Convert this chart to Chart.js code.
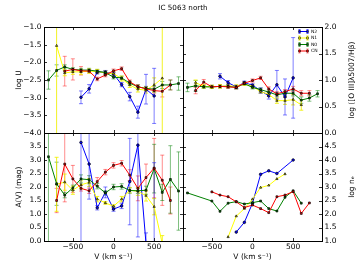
<!DOCTYPE html>
<html>
<head>
<meta charset="utf-8">
<title>IC 5063 north</title>
<script src="https://cdn.jsdelivr.net/npm/chart.js@4.4.1/dist/chart.umd.min.js"></script>
<style>
  html, body { margin: 0; padding: 0; background: #fff; }
  #fig { position: relative; width: 357px; height: 268px; }
  #fig canvas { position: absolute; left: 0; top: 0; }
</style>
</head>
<body>
<div id="fig">
  <canvas id="panelTL" width="357" height="268"></canvas>
  <canvas id="panelTR" width="357" height="268"></canvas>
  <canvas id="panelBL" width="357" height="268"></canvas>
  <canvas id="panelBR" width="357" height="268"></canvas>
</div>
<script>
// velocity bins (km/s), shared by every panel
const velocity = [-800, -700, -600, -500, -400, -300, -200, -100, 0, 100, 200, 300, 400, 500, 600, 700, 800];
const xTicks = [-500, 0, 500];
const seriesNames = ['N2', 'N1', 'N0', 'CN'];

// top left: log U
const logU_N2 = [null, null, null, null, -2.99, -2.75, -2.28, -2.28, -2.33, -2.63, -2.97, -3.41, -2.76, -2.95, null, null, null];
const logU_N2_err = [null, null, null, null, 0.18, 0.12, 0.05, 0.05, 0.05, 0.06, 0.12, 0.17, 0.42, 0.78, null, null, null];
const logU_N1 = [null, -1.53, -2.3, -2.27, -2.27, -2.25, -2.26, -2.3, -2.32, -2.46, -2.64, -2.76, -2.79, -2.64, -2.45, null, null];
const logU_N1_err = [null, 3.0, 0.08, 0.07, 0.07, 0.06, 0.06, 0.06, 0.06, 0.07, 0.07, 0.08, 0.08, 0.2, 3.0, null, null];
const logU_N0 = [-2.5, -2.23, -2.13, -2.2, -2.22, -2.22, -2.25, -2.29, -2.42, -2.44, -2.59, -2.69, -2.74, -2.76, -2.64, -2.64, -2.6];
const logU_N0_err = [0.26, 0.16, 0.06, 0.05, 0.05, 0.05, 0.05, 0.05, 0.05, 0.05, 0.05, 0.05, 0.06, 0.08, 0.1, 0.14, 0.19];
const logU_CN = [null, null, -2.25, -2.2, -2.24, -2.25, -2.47, -2.36, -2.24, -2.18, -2.55, -2.69, -2.75, -2.8, -2.82, -2.64, null];
const logU_CN_err = [null, null, 0.42, 0.3, 0.12, 0.05, 0.05, 0.05, 0.05, 0.05, 0.05, 0.06, 0.06, 0.07, 0.16, 0.14, null];

// top right: log([O III]5007/Hb)
const oiii_N2 = [null, null, null, null, 1.07, 0.95, 0.87, 0.95, 0.9, 0.8, 0.7, 0.91, 0.68, 1.04, null, null, null];
const oiii_N2_err = [null, null, null, null, 0.05, 0.04, 0.03, 0.03, 0.03, 0.05, 0.06, 0.27, 0.34, 0.76, null, null, null];
const oiii_N1 = [null, 0.95, 0.88, 0.87, 0.88, 0.89, 0.88, 0.93, 0.88, 0.78, 0.73, 0.61, 0.61, 0.63, 0.53, null, null];
const oiii_N1_err = [null, 0.05, 0.03, 0.03, 0.03, 0.03, 0.03, 0.03, 0.03, 0.03, 0.04, 0.05, 0.07, 0.1, 0.1, null, null];
const oiii_N0 = [0.86, 0.89, 0.87, 0.87, 0.88, 0.88, 0.86, 0.93, 0.86, 0.82, 0.77, 0.72, 0.75, 0.75, 0.62, 0.66, 0.74];
const oiii_N0_err = [0.08, 0.1, 0.03, 0.03, 0.03, 0.03, 0.03, 0.03, 0.03, 0.03, 0.04, 0.04, 0.04, 0.05, 0.06, 0.06, 0.06];
const oiii_CN = [null, 0.8, 0.96, 0.87, 0.88, 0.87, 0.86, 0.94, 0.99, 1.04, 0.83, 0.74, 0.78, 0.83, 0.75, 0.75, null];
const oiii_CN_err = [null, 0.06, 0.05, 0.03, 0.03, 0.03, 0.03, 0.03, 0.03, 0.03, 0.04, 0.04, 0.04, 0.05, 0.05, 0.05, null];

// bottom left: A(V)
const av_N2 = [null, null, null, null, 3.65, 2.85, 1.23, 1.8, 1.18, 1.3, 2.2, 3.55, -0.1, -0.5, null, null, null];
const av_N2_err = [null, null, null, null, 3.7, 1.3, 0.08, 0.2, 0.08, 0.1, 1.6, 3.4, 0.4, 3.4, null, null, null];
const av_N1 = [null, 2.1, 2.18, 1.88, 2.08, 2.17, 1.55, 1.41, 1.29, 1.55, 1.88, 1.84, 1.68, 1.27, -0.1, null, null];
const av_N1_err = [null, 1.0, 0.3, 0.15, 0.15, 0.15, 0.1, 0.05, 0.05, 0.1, 0.1, 0.15, 0.2, 0.3, 0.3, null, null];
const av_N0 = [3.12, 2.12, 1.7, 1.97, 2.3, 2.27, 2.03, 1.78, 2.0, 2.02, 1.87, 1.86, 1.88, 2.68, 1.8, 2.28, 1.85];
const av_N0_err = [3.3, 0.8, 0.1, 0.1, 0.15, 0.15, 0.1, 0.08, 0.1, 0.1, 0.1, 0.1, 0.15, 0.9, 0.3, 1.25, 1.45];
const av_CN = [null, 1.5, 2.85, 2.3, 1.95, 1.86, 2.2, 2.55, 2.8, 2.88, 2.44, 1.95, 2.35, 2.7, 2.25, 1.5, null];
const av_CN_err = [null, 0.45, 1.4, 0.5, 0.1, 0.1, 0.15, 0.1, 0.1, 0.1, 0.2, 0.46, 0.5, 1.1, 0.93, 0.5, null];

// bottom right: log n_e (no error bars)
const ne_N2 = [null, null, null, null, null, null, 1.33, 1.69, 2.4, 3.47, 3.6, 3.5, null, 4.0, null, null, null];
const ne_N1 = [null, null, null, null, null, 1.15, 1.92, 2.2, 2.55, 2.98, 3.06, 3.3, 3.48, null, null, null, null];
const ne_N0 = [2.78, null, null, 2.48, 2.1, 2.4, 2.46, 2.37, 2.42, 2.48, 2.2, 2.11, 2.62, 2.86, 2.4, null, null];
const ne_CN = [null, null, null, 2.82, 2.7, 2.64, 2.45, 2.24, 2.33, 2.2, 2.05, 2.64, 2.7, 2.83, 2.02, 2.41, null];

// styles
const lineColors = { N2: '#0000ff', N1: '#ffff00', N0: '#008000', CN: '#ff0000' };
const errColors = { N2: 'rgba(0,0,255,0.5)', N1: 'rgba(240,240,0,0.85)', N0: 'rgba(0,128,0,0.5)', CN: 'rgba(255,0,0,0.45)' };
const markers = { N2: 'circle', N1: 'triangle', N0: 'rect', CN: 'rect' };

const W = 357, H = 268;
const LEFT = 44, MID_X = 183, RIGHT = 322, TOP = 27, MID_Y = 133, BOTTOM = 241;
const FAMILY = '"DejaVu Sans", sans-serif';
const tickFont = { family: FAMILY, size: 7.5 };

function fmt(v) { return v.toFixed(1).replace('-', '\u2212'); }
function fmtX(v) { return String(v).replace('-', '\u2212'); }

function buildSets(series) {
  // series: [name, values, errors]; last one ends up drawn on top
  return series.map(([name, vals, errs]) => ({
    label: name,
    data: velocity
      .map((v, i) => ({ x: v, y: vals[i], e: errs ? errs[i] : null }))
      .filter(p => p.y !== null),
    borderColor: lineColors[name],
    borderWidth: 1,
    pointStyle: markers[name],
    pointRadius: 1.3,
    pointBackgroundColor: lineColors[name],
    pointBorderColor: '#000',
    pointBorderWidth: 0.7,
    errColor: errColors[name],
    tension: 0,
    fill: false
  })).reverse();
}

const panelDeco = {
  id: 'panelDeco',
  beforeDatasetsDraw(chart) {
    const { ctx, chartArea: a, scales: { x, y } } = chart;
    ctx.save();
    ctx.beginPath();
    ctx.rect(a.left, a.top, a.right - a.left, a.bottom - a.top);
    ctx.clip();
    ctx.lineWidth = 1;
    chart.data.datasets.forEach(ds => {
      ctx.strokeStyle = ds.errColor;
      ds.data.forEach(p => {
        if (p.e == null) return;
        const px = x.getPixelForValue(p.x);
        const y1 = y.getPixelForValue(p.y - p.e);
        const y2 = y.getPixelForValue(p.y + p.e);
        ctx.beginPath();
        ctx.moveTo(px, y1); ctx.lineTo(px, y2);
        ctx.moveTo(px - 2, y1); ctx.lineTo(px + 2, y1);
        ctx.moveTo(px - 2, y2); ctx.lineTo(px + 2, y2);
        ctx.stroke();
      });
    });
    ctx.restore();
  },
  afterDraw(chart, args, opts) {
    const { ctx, chartArea: a, scales: { x, y } } = chart;
    ctx.save();
    // frame
    ctx.strokeStyle = '#000';
    ctx.lineWidth = 1;
    ctx.strokeRect(a.left + 0.5, a.top + 0.5, a.right - a.left, a.bottom - a.top);
    // inward ticks on all four sides
    ctx.lineWidth = 0.8;
    ctx.beginPath();
    xTicks.forEach(v => {
      const px = Math.round(x.getPixelForValue(v)) + 0.5;
      ctx.moveTo(px, a.bottom); ctx.lineTo(px, a.bottom - 3);
      ctx.moveTo(px, a.top); ctx.lineTo(px, a.top + 3);
    });
    y.ticks.forEach(t => {
      const py = Math.round(y.getPixelForValue(t.value)) + 0.5;
      ctx.moveTo(a.left, py); ctx.lineTo(a.left + 3, py);
      ctx.moveTo(a.right, py); ctx.lineTo(a.right - 3, py);
    });
    ctx.stroke();

    ctx.fillStyle = '#000';
    if (opts.rightTitle) {
      ctx.save();
      ctx.translate(352.5, (a.top + a.bottom) / 2);
      ctx.rotate(-Math.PI / 2);
      ctx.font = '7.5px ' + FAMILY;
      ctx.textAlign = 'center';
      ctx.textBaseline = 'middle';
      ctx.fillText(opts.rightTitle, 0, 0);
      ctx.restore();
    }
    if (opts.figTitle) {
      ctx.font = '7.2px ' + FAMILY;
      ctx.textAlign = 'center';
      ctx.textBaseline = 'middle';
      ctx.fillText(opts.figTitle, (LEFT + RIGHT) / 2, 8.5);
    }
    if (opts.legend) {
      seriesNames.forEach((name, i) => {
        const ly = 31.5 + i * 6.5;
        const x1 = 299.5, x2 = 307.5;
        ctx.strokeStyle = errColors[name];
        ctx.lineWidth = 1;
        ctx.beginPath();
        [x1, x2].forEach(ex => {
          ctx.moveTo(ex, ly - 2); ctx.lineTo(ex, ly + 2);
          ctx.moveTo(ex - 1.2, ly - 2); ctx.lineTo(ex + 1.2, ly - 2);
          ctx.moveTo(ex - 1.2, ly + 2); ctx.lineTo(ex + 1.2, ly + 2);
        });
        ctx.stroke();
        ctx.strokeStyle = lineColors[name];
        ctx.beginPath();
        ctx.moveTo(x1, ly); ctx.lineTo(x2, ly);
        ctx.stroke();
        ctx.fillStyle = lineColors[name];
        ctx.strokeStyle = '#000';
        ctx.lineWidth = 0.5;
        [x1, x2].forEach(ex => {
          ctx.beginPath();
          ctx.rect(ex - 1, ly - 1, 2, 2);
          ctx.fill();
          ctx.stroke();
        });
        ctx.fillStyle = '#000';
        ctx.font = '4.5px ' + FAMILY;
        ctx.textAlign = 'left';
        ctx.textBaseline = 'middle';
        ctx.fillText(name, 311, ly);
      });
    }
    ctx.restore();
  }
};

function makePanel(canvasId, o) {
  const onLeft = o.side === 'left';
  return new Chart(document.getElementById(canvasId), {
    type: 'line',
    data: { datasets: buildSets(o.series) },
    options: {
      responsive: false,
      animation: false,
      events: [],
      layout: {
        padding: {
          left: onLeft ? 0 : MID_X,
          right: onLeft ? W - MID_X : 0,
          top: o.top ? TOP : MID_Y,
          bottom: o.top ? H - MID_Y : 0
        }
      },
      scales: {
        x: {
          type: 'linear',
          min: -855,
          max: 855,
          display: !o.top,
          afterBuildTicks: s => { s.ticks = xTicks.map(v => ({ value: v })); },
          afterFit: s => { s.height = o.top ? 0 : H - BOTTOM; },
          grid: { display: false, drawTicks: false },
          border: { display: false },
          ticks: { font: tickFont, color: '#000', padding: 2, maxRotation: 0, callback: v => fmtX(v) },
          title: { display: true, text: 'V (km s\u207B\u00B9)', font: tickFont, color: '#000', padding: { top: 0, bottom: 6 } }
        },
        y: {
          type: 'linear',
          position: onLeft ? 'left' : 'right',
          min: o.min,
          max: o.max,
          afterFit: s => { s.width = onLeft ? LEFT : W - RIGHT; },
          grid: { display: false, drawTicks: false },
          border: { display: false },
          ticks: {
            stepSize: 0.5,
            font: tickFont,
            color: '#000',
            padding: 2.5,
            callback: v => (o.hideTop && Math.abs(v - o.max) < 1e-9) ? null : fmt(v)
          },
          title: { display: onLeft, text: o.yTitle || '', font: tickFont, color: '#000', padding: { top: 14.5, bottom: 0 } }
        }
      },
      plugins: {
        legend: { display: false },
        tooltip: { enabled: false },
        panelDeco: { rightTitle: o.rightTitle, figTitle: o.figTitle, legend: o.legend }
      }
    },
    plugins: [panelDeco]
  });
}

makePanel('panelTL', {
  side: 'left', top: true, min: -4, max: -1, yTitle: 'log U', figTitle: 'IC 5063 north',
  series: [['N2', logU_N2, logU_N2_err], ['N1', logU_N1, logU_N1_err], ['N0', logU_N0, logU_N0_err], ['CN', logU_CN, logU_CN_err]]
});
makePanel('panelTR', {
  side: 'right', top: true, min: 0, max: 2, rightTitle: 'log ([O III]\u03BB5007/H\u03B2)', legend: true,
  series: [['N2', oiii_N2, oiii_N2_err], ['N1', oiii_N1, oiii_N1_err], ['N0', oiii_N0, oiii_N0_err], ['CN', oiii_CN, oiii_CN_err]]
});
makePanel('panelBL', {
  side: 'left', top: false, min: 0, max: 4, hideTop: true, yTitle: 'A(V) (mag)',
  series: [['N2', av_N2, av_N2_err], ['N1', av_N1, av_N1_err], ['N0', av_N0, av_N0_err], ['CN', av_CN, av_CN_err]]
});
makePanel('panelBR', {
  side: 'right', top: false, min: 1, max: 5, hideTop: true, rightTitle: 'log n\u2091',
  series: [['N2', ne_N2, null], ['N1', ne_N1, null], ['N0', ne_N0, null], ['CN', ne_CN, null]]
});
</script>
</body>
</html>
